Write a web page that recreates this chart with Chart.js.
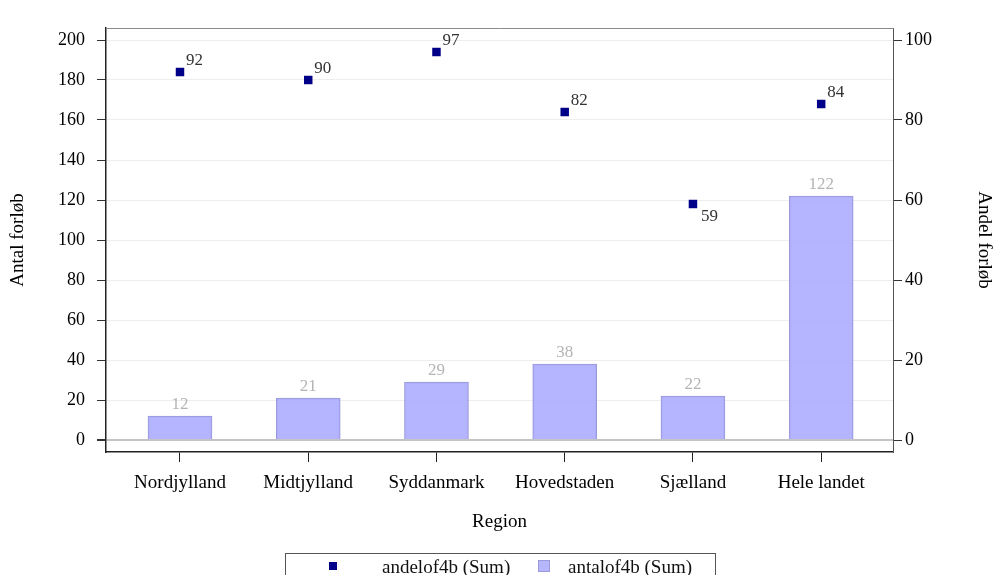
<!DOCTYPE html>
<html>
<head>
<meta charset="utf-8">
<script src="https://cdn.jsdelivr.net/npm/chart.js@4"></script>
<style>
  html, body { margin: 0; padding: 0; background: #fff; }
  #wrap { width: 995px; height: 575px; }
</style>
</head>
<body>
<div id="wrap"><canvas id="regionChart" width="995" height="575"></canvas></div>
<script>
// data
const regions = ['Nordjylland', 'Midtjylland', 'Syddanmark', 'Hovedstaden', 'Sjælland', 'Hele landet'];
const antalForloeb = [12, 21, 29, 38, 22, 122];
const andelForloeb = [92, 90, 97, 82, 59, 84];
const leftTicks = [0, 20, 40, 60, 80, 100, 120, 140, 160, 180, 200];
const rightTicks = [0, 20, 40, 60, 80, 100];

const serif = '"Liberation Serif", "DejaVu Serif", serif';

// labels above bars / beside points + boxed legend
const labelPlugin = {
    id: 'labels',
    afterDatasetsDraw(chart) {
        const ctx = chart.ctx;
        ctx.save();
        ctx.font = '17px ' + serif;
        // bar values
        const barMeta = chart.getDatasetMeta(0);
        ctx.fillStyle = '#b4b4b4';
        ctx.textAlign = 'center';
        ctx.textBaseline = 'bottom';
        barMeta.data.forEach(function(bar, i) {
            ctx.fillText(antalForloeb[i], bar.x, bar.y - 3);
        });
        // point values
        const ptMeta = chart.getDatasetMeta(1);
        ctx.fillStyle = '#333';
        ctx.textAlign = 'left';
        ptMeta.data.forEach(function(pt, i) {
            if (andelForloeb[i] < 70) {
                ctx.textBaseline = 'top';
                ctx.fillText(andelForloeb[i], pt.x + 8, pt.y + 4);
            } else {
                ctx.textBaseline = 'bottom';
                ctx.fillText(andelForloeb[i], pt.x + 6, pt.y - 3);
            }
        });
        ctx.restore();
    },
    afterDraw(chart) {
        const ctx = chart.ctx;
        const a = chart.chartArea;
        ctx.save();
        // frame top
        ctx.strokeStyle = '#8a8a8a';
        ctx.lineWidth = 1;
        ctx.beginPath();
        ctx.moveTo(a.left, a.top + 0.5);
        ctx.lineTo(a.right + 0.5, a.top + 0.5);
        ctx.stroke();
        // legend box
        ctx.strokeStyle = '#555';
        ctx.strokeRect(285.5, 553.5, 430, 30);
        ctx.fillStyle = '#000088';
        ctx.fillRect(329, 562, 8, 8);
        ctx.fillStyle = 'rgba(170,170,255,0.85)';
        ctx.fillRect(538, 560, 12, 12);
        ctx.strokeStyle = '#9a9ad8';
        ctx.strokeRect(538.5, 560.5, 11, 11);
        ctx.fillStyle = '#111';
        ctx.font = '19px ' + serif;
        ctx.textAlign = 'left';
        ctx.textBaseline = 'alphabetic';
        ctx.fillText('andelof4b (Sum)', 382, 573);
        ctx.fillText('antalof4b (Sum)', 568, 573);
        ctx.restore();
    }
};

const ctx = document.getElementById('regionChart').getContext('2d');
const chart = new Chart(ctx, {
    data: {
        datasets: [{
            type: 'bar',
            label: 'antalof4b (Sum)',
            data: antalForloeb.map(function(v, i) { return { x: i, y: v }; }),
            yAxisID: 'y',
            backgroundColor: 'rgba(170,170,255,0.88)',
            borderColor: '#9a9ad8',
            borderWidth: 1,
            barThickness: 64,
            order: 2
        }, {
            type: 'scatter',
            label: 'andelof4b (Sum)',
            data: andelForloeb.map(function(v, i) { return { x: i, y: v }; }),
            yAxisID: 'y1',
            pointStyle: 'rect',
            pointRadius: 6,
            pointHoverRadius: 6,
            backgroundColor: '#000088',
            borderColor: '#000088',
            borderWidth: 0,
            order: 1
        }]
    },
    options: {
        responsive: false,
        animation: false,
        layout: { padding: { top: 28, left: 0, right: 0, bottom: 0 } },
        plugins: {
            legend: { display: false },
            tooltip: { enabled: false }
        },
        scales: {
            x: {
                type: 'linear',
                offset: false,
                min: -0.577,
                max: 5.56,
                afterBuildTicks: function(scale) {
                    scale.ticks = regions.map(function(r, i) { return { value: i }; });
                },
                afterFit: function(scale) { scale.height = 123; },
                ticks: {
                    callback: function(v) { return regions[v]; },
                    color: '#000',
                    font: { family: serif, size: 19 },
                    padding: 10,
                    maxRotation: 0,
                    autoSkip: false
                },
                grid: { drawOnChartArea: false, offset: false, tickLength: 10, color: '#222' },
                border: { color: '#222', width: 1.5 },
                title: {
                    display: true,
                    text: 'Region',
                    color: '#000',
                    font: { family: serif, size: 19 },
                    padding: { top: 4, bottom: 42 }
                }
            },
            y: {
                position: 'left',
                min: -6,
                max: 206,
                afterBuildTicks: function(scale) {
                    scale.ticks = leftTicks.map(function(v) { return { value: v }; });
                },
                afterFit: function(scale) { scale.width = 106; },
                ticks: {
                    color: '#000',
                    font: { family: serif, size: 18 },
                    padding: 12
                },
                grid: {
                    color: function(c) { return c.tick && c.tick.value === 0 ? '#c4c4c4' : '#eeeeee'; },
                    lineWidth: function(c) { return c.tick && c.tick.value === 0 ? 2 : 1; },
                    tickColor: '#333',
                    tickLength: 9
                },
                border: { color: '#222', width: 1.5 },
                title: {
                    display: true,
                    text: 'Antal forløb',
                    color: '#000',
                    font: { family: serif, size: 19 },
                    padding: { top: 7, bottom: 0 }
                }
            },
            y1: {
                position: 'right',
                min: -3,
                max: 103,
                afterBuildTicks: function(scale) {
                    scale.ticks = rightTicks.map(function(v) { return { value: v }; });
                },
                afterFit: function(scale) { scale.width = 102; },
                ticks: {
                    color: '#000',
                    font: { family: serif, size: 18 },
                    padding: 3
                },
                grid: { drawOnChartArea: false, tickColor: '#333', tickLength: 9 },
                border: { color: '#555', width: 1 },
                title: {
                    display: true,
                    text: 'Andel forløb',
                    color: '#000',
                    font: { family: serif, size: 19 },
                    padding: { top: 0, bottom: 1 }
                }
            }
        }
    },
    plugins: [labelPlugin]
});
</script>
</body>
</html>
